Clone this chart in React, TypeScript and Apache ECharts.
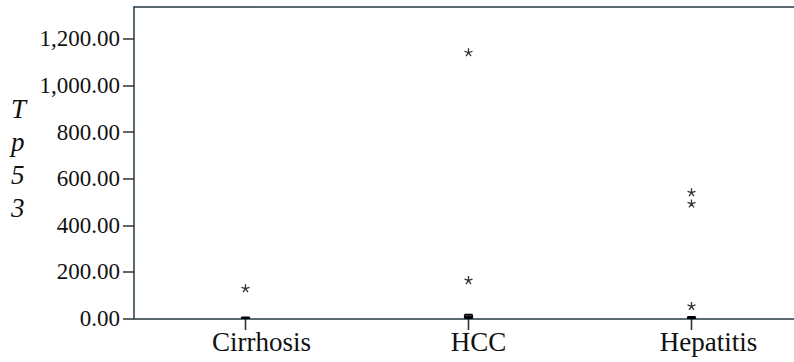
import React, { useEffect, useRef } from "react";
import * as echarts from "echarts";

const categories = ["Cirrhosis", "HCC", "Hepatitis"];
// horizontal nudge of each category label, in px of left padding
const labelNudge = [32, 20, 34];
// collapsed box summaries near zero: [min, Q1, median, Q3, max]
const boxStats = [
  [0, 1, 2, 4, 6],
  [0, 4, 8, 14, 18],
  [0, 1, 3, 5, 8],
];
// extreme values drawn as asterisks: [category index, value]
const extremes = [
  [0, 130],
  [1, 1143],
  [1, 165],
  [2, 542],
  [2, 494],
  [2, 54],
];
// category tick stems at the zero line
const stems = [
  [0, 0],
  [1, 0],
  [2, 0],
];
const yTicks = [0, 200, 400, 600, 800, 1000, 1200];
const yMax = 1337;
const yAxisTitle = ["T", "p", "5", "3"];

const asterisk =
  "path://M0,-5L0,0M0,0L4.76,-1.55M0,0L2.94,4.05M0,0L-2.94,4.05M0,0L-4.76,-1.55";
const stemShape = "path://M-0.5,0L0.5,0L0.5,10L-0.5,10Z";

const serif = "Liberation Serif";
const axisColor = "#263a42";

const richLabels: Record<string, object> = {};
categories.forEach((_, i) => {
  richLabels["c" + i] = {
    fontFamily: serif,
    fontSize: 27,
    color: "#111",
    padding: [0, 0, 0, labelNudge[i]],
  };
});

export default function App() {
  const ref = useRef<HTMLDivElement>(null);

  useEffect(() => {
    if (!ref.current) return;
    const chart = echarts.init(ref.current, undefined, { renderer: "svg" });
    chart.setOption({
      animation: false,
      backgroundColor: "#ffffff",
      grid: {
        left: 134,
        top: 7,
        height: 311.5,
        width: 669,
        outerBoundsMode: "none",
        containLabel: false,
      },
      xAxis: [
        {
          type: "category",
          data: categories,
          boundaryGap: true,
          axisLine: { lineStyle: { color: axisColor, width: 1.5 } },
          axisTick: { show: false },
          axisLabel: {
            fontFamily: serif,
            fontSize: 27,
            color: "#111",
            margin: 10,
            formatter: (v: string) => `{c${categories.indexOf(v)}|${v}}`,
            rich: richLabels,
          },
          splitLine: { show: false },
        },
        {
          // top frame line
          type: "category",
          data: categories,
          position: "top",
          axisLine: { show: true, lineStyle: { color: axisColor, width: 1.5 } },
          axisTick: { show: false },
          axisLabel: { show: false },
          splitLine: { show: false },
        },
      ],
      yAxis: {
        type: "value",
        min: 0,
        max: yMax,
        interval: 200,
        axisLine: { show: true, lineStyle: { color: axisColor, width: 1.5 } },
        axisTick: {
          show: true,
          length: 11,
          lineStyle: { color: "#333", width: 1.5 },
        },
        axisLabel: {
          fontFamily: serif,
          fontSize: 23,
          color: "#111",
          margin: 14,
          showMaxLabel: false,
          formatter: (v: number) =>
            yTicks.includes(v)
              ? v.toLocaleString("en-US", {
                  minimumFractionDigits: 2,
                  maximumFractionDigits: 2,
                })
              : "",
        },
        splitLine: { show: false },
      },
      graphic: [
        {
          type: "text",
          left: 11,
          top: 92,
          style: {
            text: yAxisTitle.join("\n"),
            fontFamily: serif,
            fontStyle: "italic",
            fontSize: 27,
            lineHeight: 33,
            fill: "#111",
            align: "center",
          },
        },
      ],
      series: [
        {
          type: "scatter",
          data: stems,
          clip: false,
          symbol: stemShape,
          symbolSize: [1.6, 13],
          symbolOffset: [0, 5],
          itemStyle: { color: "#000" },
          silent: true,
        },
        {
          type: "boxplot",
          data: boxStats,
          boxWidth: [8, 8],
          itemStyle: { color: "transparent", borderColor: "#000", borderWidth: 1.2 },
        },
        {
          type: "scatter",
          data: extremes,
          symbol: asterisk,
          symbolSize: 8,
          itemStyle: { color: "none", borderColor: "#000", borderWidth: 1.3 },
        },
      ],
    });
    return () => chart.dispose();
  }, []);

  return (
    <div
      ref={ref}
      style={{ position: "fixed", left: 0, top: 0, width: 794, height: 362 }}
    />
  );
}
